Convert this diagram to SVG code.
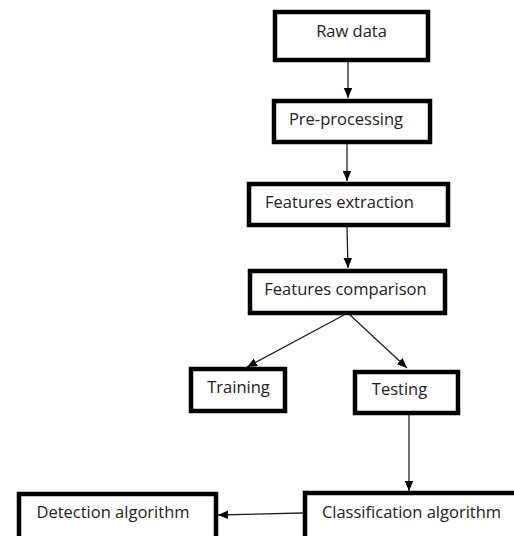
<svg xmlns="http://www.w3.org/2000/svg" width="514" height="536" viewBox="0 0 514 536">
<style>
.box{fill:#fff;stroke:#000;stroke-width:4.5}
.lbl{font-family:"Open Sans","Noto Sans",sans-serif;font-size:16.5px;fill:#222;text-anchor:middle}
.edge{stroke:#222;stroke-width:1.3;fill:none;marker-end:url(#ah)}
</style>
<defs>
<marker id="ah" markerUnits="userSpaceOnUse" markerWidth="10" markerHeight="10" refX="10" refY="5" orient="auto">
<path d="M0,0.8 L10,5 L0,9.2 z" fill="#000"/>
</marker>
</defs>
<rect width="514" height="536" fill="#fff"/>
<g id="connectors">
<line class="edge" x1="348" y1="62" x2="348" y2="98"/>
<line class="edge" x1="347" y1="144" x2="347" y2="181"/>
<line class="edge" x1="347" y1="227" x2="348" y2="268"/>
<line class="edge" x1="344" y1="315" x2="247" y2="367"/>
<line class="edge" x1="350" y1="315" x2="407" y2="368"/>
<line class="edge" x1="409" y1="415" x2="409" y2="491"/>
<line class="edge" x1="303" y1="513" x2="218" y2="515"/>
</g>
<g id="raw-data"><rect class="box" x="275" y="12" width="153" height="48"/><text class="lbl" x="351.5" y="37">Raw data</text></g>
<g id="pre-processing"><rect class="box" x="274" y="101" width="156" height="41"/><text class="lbl" x="346" y="125">Pre-processing</text></g>
<g id="features-extraction"><rect class="box" x="249" y="184" width="199" height="41"/><text class="lbl" x="339.5" y="208">Features extraction</text></g>
<g id="features-comparison"><rect class="box" x="250" y="271" width="195" height="42"/><text class="lbl" x="345.5" y="295">Features comparison</text></g>
<g id="training"><rect class="box" x="191" y="369" width="94" height="42"/><text class="lbl" x="238.5" y="393">Training</text></g>
<g id="testing"><rect class="box" x="355" y="372" width="103" height="41"/><text class="lbl" x="399.5" y="395">Testing</text></g>
<g id="classification-algorithm"><rect class="box" x="305" y="493" width="215" height="50"/><text class="lbl" x="411.5" y="518">Classification algorithm</text></g>
<g id="detection-algorithm"><rect class="box" x="19" y="494" width="197" height="50"/><text class="lbl" x="113" y="518">Detection algorithm</text></g>
</svg>
